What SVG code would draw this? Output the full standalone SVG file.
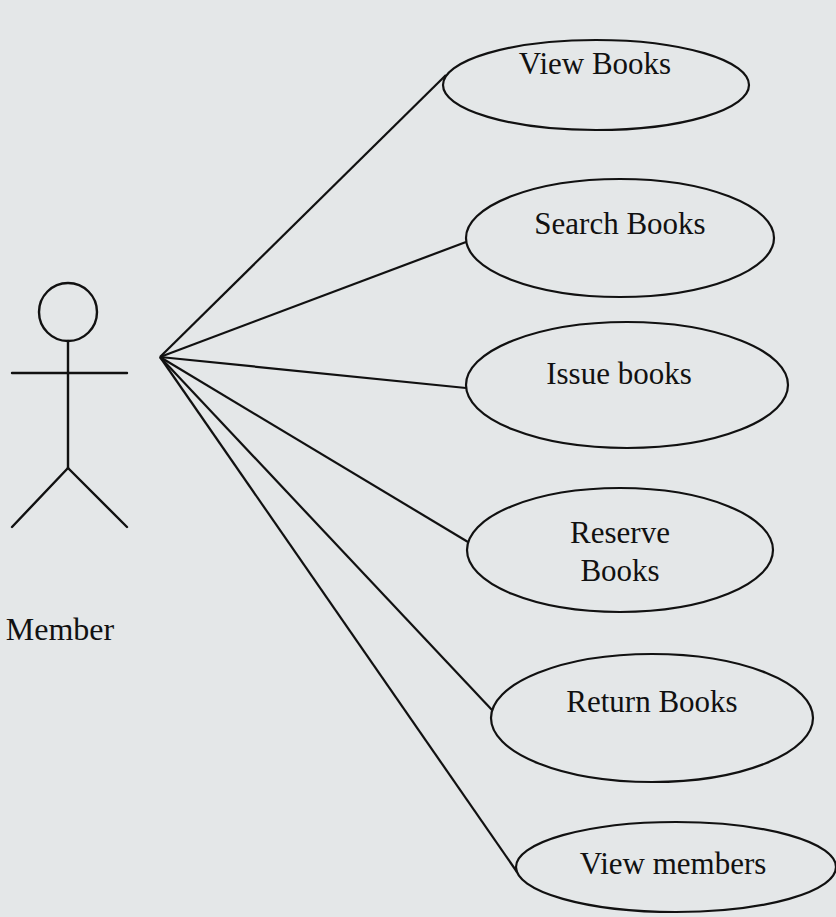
<svg xmlns="http://www.w3.org/2000/svg" width="836" height="917" viewBox="0 0 836 917">
<style>
.bg{fill:#e4e7e8}
.uc{fill:none;stroke:#111;stroke-width:2.2}
.act{fill:none;stroke:#111;stroke-width:2.4;stroke-linecap:round}
.ln{stroke:#111;stroke-width:2.2;fill:none}
text{font-family:"Liberation Serif","Times New Roman",serif;font-size:31px;fill:#111;text-anchor:middle}
</style>
<rect class="bg" x="0" y="0" width="836" height="917"/>
<g id="connectors">
<line class="ln" x1="160" y1="357" x2="446" y2="75"/>
<line class="ln" x1="160" y1="357" x2="466" y2="242"/>
<line class="ln" x1="160" y1="357" x2="466" y2="388"/>
<line class="ln" x1="160" y1="357" x2="468" y2="542"/>
<line class="ln" x1="160" y1="357" x2="492" y2="710"/>
<line class="ln" x1="160" y1="357" x2="517" y2="872"/>
</g>
<g id="member">
<circle class="act" cx="68" cy="312" r="29"/>
<line class="act" x1="68" y1="341" x2="68" y2="468"/>
<line class="act" x1="12" y1="373" x2="127" y2="373"/>
<line class="act" x1="68" y1="468" x2="12" y2="527"/>
<line class="act" x1="68" y1="468" x2="127" y2="527"/>
<text x="60" y="640" style="font-size:32px">Member</text>
</g>
<g id="view-books">
<ellipse class="uc" cx="596" cy="85" rx="153" ry="45"/>
<text x="595" y="74">View Books</text>
</g>
<g id="search-books">
<ellipse class="uc" cx="620" cy="238" rx="154" ry="59"/>
<text x="620" y="234">Search Books</text>
</g>
<g id="issue-books">
<ellipse class="uc" cx="627" cy="385" rx="161" ry="63"/>
<text x="619" y="384">Issue books</text>
</g>
<g id="reserve-books">
<ellipse class="uc" cx="620" cy="550" rx="153" ry="62"/>
<text x="620" y="543">Reserve</text>
<text x="620" y="581">Books</text>
</g>
<g id="return-books">
<ellipse class="uc" cx="652" cy="718" rx="161" ry="64"/>
<text x="652" y="712">Return Books</text>
</g>
<g id="view-members">
<ellipse class="uc" cx="676" cy="867" rx="160" ry="45"/>
<text x="673" y="874">View members</text>
</g>
</svg>
